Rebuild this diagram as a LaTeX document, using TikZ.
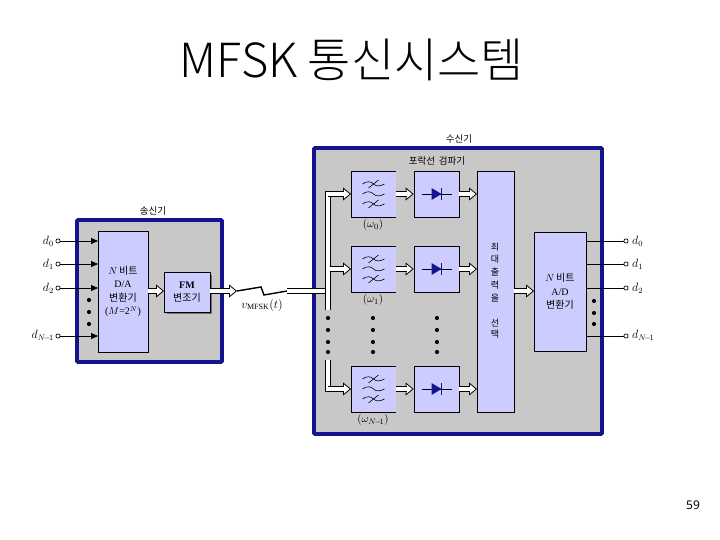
\documentclass[tikz,border=0pt]{standalone}
\usepackage{fontspec}
\setmainfont{Liberation Serif}
\newfontfamily\kr{Noto Sans CJK KR}
\newfontfamily\krl{Noto Sans CJK KR Light}
\newfontfamily\tsans{Noto Sans}[Scale=1]
\usetikzlibrary{arrows.meta}
\definecolor{navy1}{HTML}{14148C}
\definecolor{grey1}{HTML}{C8C8C8}
\definecolor{lav}{HTML}{CCCCFF}
\newcommand{\ko}[1]{{\kr #1}}
\tikzset{
  panel/.style={draw=navy1,fill=grey1,line width=3.6pt,rounded corners=1pt},
  bluebox/.style={draw=black,fill=lav,line width=.8pt,inner sep=0pt,align=center,font=\fontsize{10}{13.5}\selectfont},
  captxt/.style={font=\kr\fontsize{9.5}{11}\selectfont,inner sep=0pt},
  lab/.style={font=\fontsize{12}{14}\selectfont\itshape,inner sep=0pt},
  term/.style={circle,draw=black,fill=white,line width=.7pt,minimum size=4.2pt,inner sep=0pt},
  sig/.style={line width=.8pt,black},
  sigin/.style={line width=.8pt,black,-{Triangle[length=7pt,width=6pt]}},
  htip/.style={line width=.8pt,black,-{Triangle[open,fill=white,length=8pt,width=13pt]}},
  hbar/.style={line width=.8pt,draw=black,double=white,double distance=3.8pt,shorten >=7pt},
  hbarplain/.style={line width=.8pt,draw=black,double=white,double distance=3.8pt},
  dotm/.style={circle,fill=black,minimum size=4.2pt,inner sep=0pt},
  wave/.style={line width=.6pt,black},
  pics/filter/.style={code={
    \foreach \yy in {-10,0,10}{
      \draw[wave] (-11,\yy) .. controls (-7,\yy-3) and (-3,\yy-3) .. (0,\yy) .. controls (3,\yy+3) and (7,\yy+2) .. (11,\yy);}
    \foreach \yy in {-10,10}{\draw[wave] (-5,\yy+4) -- (5,\yy-4);}
  }},
  pics/diode/.style={code={
    \draw[line width=.7pt,black] (-15,0) -- (15,0);
    \fill[navy1] (-5,-6) -- (5,0) -- (-5,6) -- cycle;
    \draw[navy1,line width=1pt] (5,-6) -- (5,6);
  }},
}
\newcommand{\harrow}[1]{\draw[htip] #1; \draw[hbar] #1;}
\begin{document}
\begin{tikzpicture}[x=1pt,y=-1pt]
\useasboundingbox (0,0) rectangle (720,540);
\node[font=\krl\fontsize{47}{50}\selectfont,inner sep=0pt] (title) at (352,60) {MFSK 통신시스템};
% panels
\node[panel,minimum width=145pt,minimum height=142pt,inner sep=0pt] (tx) at (149.5,291) {};
\node[panel,minimum width=288pt,minimum height=286pt,inner sep=0pt] (rx) at (458,291) {};
\node[captxt] (txl) at (153,211) {송신기};
\node[captxt] (rxl) at (459,139) {수신기};
\node[captxt] (envl) at (437,161) {포락선 \,검파기};
% transmitter
\node[bluebox,minimum width=50pt,minimum height=121pt] (da) at (123,291.5) {$N$\,\ko{비트}\\D/A\\\ko{변환기}\\($M$=2$^N$)};
\fill[black!55] (167,275) rectangle (212,314);
\node[bluebox,minimum width=46pt,minimum height=40pt] (fm) at (187,292) {\textbf{FM}\\\ko{변조기}};
\foreach \n/\yy in {0/241,1/264,2/288,3/336}{
  \node[term] (i\n) at (58,\yy) {};
  \coordinate (ie\n) at (98,\yy);
  \draw[sigin] (i\n) -- (ie\n);
}
\node[lab,anchor=east] (ld0) at (54,241) {$d_0$};
\node[lab,anchor=east] (ld1) at (54,264) {$d_1$};
\node[lab,anchor=east] (ld2) at (54,288) {$d_2$};
\node[lab,anchor=east] (ld3) at (54,336) {$d_{N\!-\!1}$};
\foreach \yy in {300,312,324}{\node[dotm] at (89,\yy) {};}
\coordinate (daout) at (148,291);
\coordinate (fmin) at (164,291);
\harrow{(daout) -- (fmin)}
\coordinate (fmout) at (210,291);
\coordinate (lt) at (237,291);
\harrow{(fmout) -- (lt)}
\coordinate (lb) at (287,291);
\draw[line width=1.4pt,black] (lt) -- (261,287) -- (264,295) -- (lb);
\node[lab] (vm) at (262,305) {$v_{\mathrm{MFSK}}(t)$};
% receiver channels
\foreach \n/\yy/\lbl in {0/194/{$(\omega_0)$},1/269/{$(\omega_1)$},2/389/{$(\omega_{N\!-\!1})$}}{
  \fill[lav] (351,\yy-23) rectangle (396,\yy+23);
  \draw[line width=.8pt,black] (396,\yy-23) -- (351,\yy-23) -- (351,\yy+23) -- (396,\yy+23);
  \coordinate (fi\n) at (351,\yy);
  \coordinate (fo\n) at (396,\yy);
  \pic at (373.5,\yy) {filter};
  \node[bluebox,minimum width=45pt,minimum height=46pt] (det\n) at (436.5,\yy) {};
  \pic at (436.5,\yy) {diode};
  \coordinate (de\n) at (477,\yy);
  \node[lab,font=\fontsize{11}{13}\selectfont] (om\n) at (373,\yy+ 31) {\lbl};
}
\node[bluebox,minimum width=37pt,minimum height=241pt] (maxs) at (495.5,291.5) {};
\foreach \yy/\ch in {247/최,259/대,272/출,285/력,298/을,323/선,334/택}{
  \node[captxt,font=\kr\fontsize{9}{10}\selectfont] at (495,\yy) {\ch};
}
\node[bluebox,minimum width=52pt,minimum height=119pt] (ad) at (560,291.5) {$N$\,\ko{비트}\\A/D\\\ko{변환기}};
\foreach \n in {0,1,2}{
  \harrow{(fo\n) -- (det\n.west |- fo\n)}
  \harrow{(det\n.east) -- (de\n)}
}
\coordinate (mo) at (514,291);
\coordinate (adi) at (534,291);
\harrow{(mo) -- (adi)}
% feed
\coordinate (feedb1) at (328,310);
\coordinate (feedb2) at (328,360);
\coordinate (rxin) at (326,291);
\draw[hbarplain] (lb) -- (rxin);
\draw[hbarplain] (feedb1) -- (328,194) -- (340,194);
\harrow{(328,194) -- (fi0)}
\harrow{(330,269) -- (fi1)}
\draw[hbarplain] (feedb2) -- (328,389) -- (335,389);
\harrow{(328,389) -- (fi2)}
\foreach \xx in {328,373,437}{\foreach \yy in {318,330,342,352}{\node[dotm] at (\xx,\yy) {};}}
% outputs
\foreach \n/\yy/\lbl in {0/241/{$d_0$},1/264/{$d_1$},2/288/{$d_2$},3/336/{$d_{N\!-\!1}$}}{
  \node[term] (o\n) at (626,\yy) {};
  \coordinate (ab\n) at (586,\yy);
  \draw[sig] (ab\n) -- (o\n);
  \node[lab,anchor=west] (old\n) at (632,\yy) {\lbl};
}
\foreach \yy in {301,313,324}{\node[dotm] at (594,\yy) {};}
\node[font=\tsans\fontsize{12}{14}\selectfont,inner sep=0pt] (pg) at (693,505) {59};
\end{tikzpicture}
\end{document}
